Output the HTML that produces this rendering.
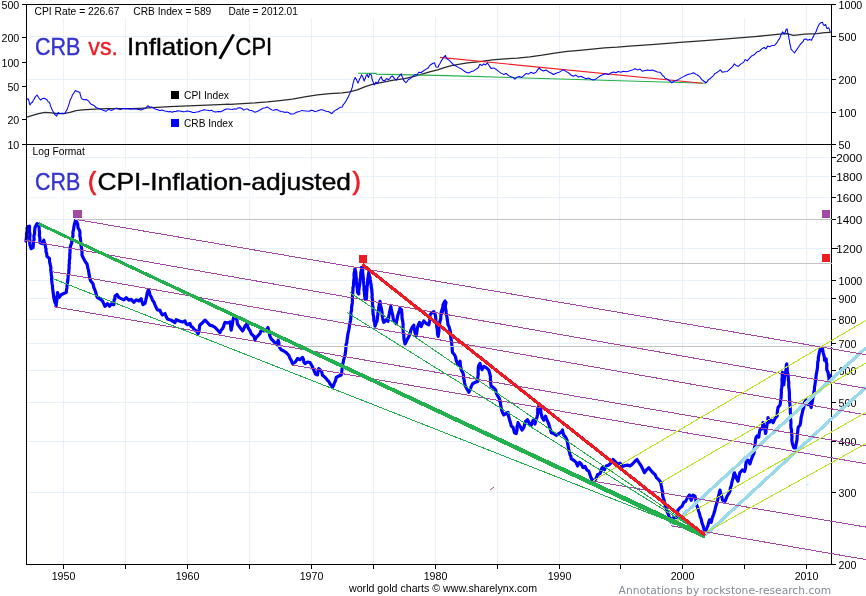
<!DOCTYPE html>
<html lang="en"><head><meta charset="utf-8"><title>CRB vs. Inflation/CPI</title>
<style>html,body{margin:0;padding:0;background:#fff;overflow:hidden}svg{display:block}</style></head>
<body>
<svg width="866" height="596" viewBox="0 0 866 596">
<rect width="866" height="596" fill="#fff"/>
<path d="M63.5,5V564 M125.5,5V564 M187.5,5V564 M249.5,5V564 M311.5,5V564 M373.5,5V564 M435.5,5V564 M497.5,5V564 M559.5,5V564 M620.5,5V564 M682.5,5V564 M744.5,5V564 M806.5,5V564 M27,36.5H831 M27,79.5H831 M27,112.5H831 M27,157.5H831 M27,176.5H831 M27,197.5H831 M27,219.5H831 M27,248.5H831 M27,280.5H831 M27,298.5H831 M27,319.5H831 M27,343.5H831 M27,370.5H831 M27,402.5H831 M27,441.5H831 M27,492.5H831" stroke="#e6f1fb" stroke-width="1" fill="none"/>
<rect x="27" y="5" width="440" height="13" fill="#fff"/>
<rect x="740" y="5" width="10" height="13" fill="#fff"/>
<polyline points="26.2,117.4 32.5,115.4 38.7,113.6 44.9,112.4 51.2,112.9 57.4,113.6 63.7,113.6 69.9,112.4 76.1,110.6 82.4,109.9 94.8,109.1 107.3,108.6 119.8,108.6 132.2,108.6 144.7,108.1 157.2,107.4 169.7,106.6 182.1,106.1 194.6,105.6 207.1,105.1 219.6,104.6 228.3,104.2 230.0,104.4 242.5,103.6 254.9,102.9 267.4,101.9 279.9,100.6 292.4,99.1 304.8,96.9 317.3,94.9 329.8,93.6 342.2,92.9 349.7,91.9 357.2,89.9 364.7,86.9 372.2,84.4 379.7,82.9 392.1,80.4 404.6,78.7 412.1,76.9 419.6,74.9 429.6,71.9 437.5,69.9 445.0,67.4 452.4,65.4 459.9,64.2 467.4,62.9 479.9,61.7 492.4,59.9 504.8,58.9 517.3,58.2 529.8,56.9 542.2,55.2 554.7,53.2 567.2,51.4 579.7,50.4 592.1,49.2 604.6,47.9 617.1,47.2 629.6,46.2 654.9,44.4 679.9,42.4 704.8,40.7 729.8,38.7 754.7,36.7 779.7,34.2 787.1,33.7 793.4,35.4 804.6,34.2 817.1,33.7 824.6,32.7 830.8,32.4" fill="none" stroke="#2a2a2a" stroke-width="1.3" stroke-linejoin="round"/>
<path d="M358,73.3 L376,73.4 L376.5,74.1 L446,75.6 L706,83.3" stroke="#22b14c" stroke-width="1.1" fill="none"/>
<path d="M440,57.4 L702.5,83.3" stroke="#ed1c24" stroke-width="1.1" fill="none"/>
<polyline points="26.2,99.9 28.0,98.6 28.5,99.7 29.0,101.2 29.3,103.2 30.0,104.9 31.2,103.0 32.5,102.2 33.3,100.2 34.0,99.5 35.0,97.3 37.0,95.0 38.7,97.7 40.5,100.0 42.4,98.6 44.4,98.2 46.9,99.7 48.1,101.7 49.4,102.2 49.9,103.5 50.5,106.2 51.2,107.4 52.0,109.5 52.9,111.2 53.7,112.4 54.9,114.7 56.7,116.2 57.3,114.2 58.2,112.4 59.9,113.6 62.4,113.3 64.9,113.5 65.6,112.1 66.6,110.3 67.4,108.9 67.9,107.1 68.5,105.6 69.4,102.9 69.9,101.0 70.3,99.6 71.2,98.3 71.9,96.6 72.4,94.8 73.4,93.7 74.4,92.0 75.4,90.6 77.4,91.4 79.9,92.4 80.1,94.3 80.8,96.0 81.1,97.7 82.3,99.1 83.6,99.8 86.1,99.5 88.6,100.9 89.7,102.7 91.1,104.2 93.6,105.2 96.1,107.5 98.6,108.4 101.1,109.2 103.6,110.6 106.1,111.3 108.6,109.2 111.0,110.4 113.5,109.4 116.0,108.1 118.5,109.1 120.3,109.4 122.3,108.8 124.3,108.6 126.0,108.9 127.7,108.5 129.8,109.2 131.6,108.8 133.5,108.9 135.2,108.8 137.2,109.3 139.1,109.5 141.0,110.1 143.5,109.0 146.0,107.9 147.7,105.7 149.7,107.0 152.2,107.1 154.7,108.9 157.2,109.5 159.7,110.6 162.2,110.1 164.7,111.1 166.4,111.2 168.4,111.7 170.1,111.4 172.2,112.2 174.0,111.5 175.9,111.4 177.6,110.7 179.6,110.9 181.3,111.2 183.4,111.8 185.1,111.5 187.1,111.0 188.9,111.3 190.9,111.7 192.9,112.6 194.6,112.4 196.3,112.1 198.3,111.7 200.1,110.9 202.1,110.6 203.8,109.7 205.8,110.1 207.6,110.3 209.6,110.7 211.5,110.2 213.3,111.4 215.3,112.0 217.1,111.7 218.8,111.6 220.8,111.8 222.8,110.8 224.5,109.8 226.5,108.9 228.3,108.9 230.4,109.3 232.4,109.4 234.3,108.8 236.2,109.3 237.9,107.9 240.0,107.7 241.9,108.5 243.7,110.1 245.8,109.1 247.5,108.9 249.3,110.2 251.2,110.4 252.9,111.1 254.9,112.2 257.0,111.6 258.7,110.8 261.2,109.3 263.7,107.9 265.4,107.8 267.4,106.9 269.9,108.8 271.9,109.9 273.7,110.3 275.6,109.6 277.4,109.7 279.5,111.1 281.1,111.5 283.2,111.8 284.9,112.5 286.6,112.1 288.6,112.6 290.6,114.0 292.4,113.9 294.4,113.7 296.1,112.4 298.0,111.8 299.8,111.4 301.9,110.4 303.6,110.7 305.6,110.9 307.3,111.1 309.3,111.2 311.1,110.2 312.9,110.6 314.8,111.4 316.6,111.2 318.6,110.5 320.6,109.7 322.3,109.8 324.2,110.4 326.0,111.3 328.1,111.6 329.8,112.3 331.8,113.6 333.1,112.1 334.8,110.6 337.3,109.2 339.8,107.6 342.2,107.0 343.2,104.8 344.2,103.7 346.0,101.1 346.9,99.2 347.7,97.9 348.6,96.1 349.7,93.7 350.5,91.4 351.5,90.0 351.9,88.2 352.5,86.9 352.7,84.9 353.1,83.4 353.6,81.6 354.0,79.9 355.2,77.4 356.7,79.9 357.4,82.0 358.0,83.1 358.7,81.4 359.7,78.7 360.7,77.4 361.5,74.7 363.0,77.2 363.4,79.2 364.2,81.0 364.9,78.9 365.5,78.2 365.9,76.0 367.2,74.3 367.7,76.0 368.4,77.6 368.9,76.2 369.7,73.9 371.2,74.9 371.8,76.5 371.8,78.5 372.3,79.5 372.7,81.1 373.4,82.6 374.2,85.0 375.9,82.1 377.7,83.7 378.1,81.9 379.1,80.1 379.7,78.7 381.2,76.7 382.0,79.1 382.7,80.2 384.7,80.9 386.6,78.5 388.6,79.7 389.7,78.8 390.9,76.7 392.6,76.1 394.6,78.9 396.6,80.1 397.7,77.7 399.1,76.4 401.1,73.7 401.7,75.8 402.6,77.2 403.3,79.6 404.1,80.9 405.9,82.7 407.2,81.3 408.3,79.7 410.8,78.1 413.3,75.9 415.1,74.6 417.1,74.9 418.1,73.2 419.1,72.2 420.8,72.8 423.3,71.0 425.8,69.4 428.3,67.8 429.4,65.9 430.8,64.7 432.6,63.5 434.5,62.8 435.3,65.3 436.2,66.9 438.0,67.2 438.8,65.3 440.0,63.5 441.1,61.1 442.0,59.9 443.7,57.2 445.5,55.4 446.0,57.7 447.0,58.8 448.7,59.9 450.1,61.2 451.2,62.3 452.5,63.7 453.7,65.2 456.2,66.1 458.7,67.6 461.2,68.8 463.7,70.7 466.2,72.3 468.7,73.0 471.2,71.6 473.7,70.9 476.1,69.1 478.6,67.5 479.1,65.6 479.9,64.2 481.9,65.6 483.6,63.9 485.4,65.0 487.4,62.8 488.3,64.2 489.4,66.1 491.1,68.4 493.6,67.9 496.1,69.3 498.6,71.4 501.1,73.1 503.6,74.4 506.1,73.5 508.6,75.6 511.1,76.8 513.6,77.8 514.8,79.1 516.8,77.3 519.3,76.4 521.8,77.4 524.3,75.2 526.0,73.6 528.5,74.1 531.0,72.3 533.5,73.4 536.0,72.3 537.8,69.6 539.3,67.9 541.0,69.8 543.5,71.0 546.0,69.9 548.5,71.7 551.0,73.0 553.5,74.5 556.0,73.3 558.5,72.6 561.0,71.1 563.4,69.8 565.9,71.4 568.4,72.7 570.9,75.0 573.4,76.2 575.9,75.1 578.4,77.1 580.9,76.3 583.4,77.4 585.9,78.7 588.4,78.0 590.9,79.2 593.4,79.9 595.9,78.9 598.4,77.1 600.9,75.5 603.4,74.6 605.9,73.7 608.3,74.6 610.8,73.0 613.3,72.0 615.8,72.7 618.3,71.6 620.8,72.2 623.3,71.3 625.8,71.7 628.3,71.3 630.5,70.6 632.5,69.9 635.0,68.7 637.5,69.9 640.0,69.1 642.5,71.3 645.0,70.5 647.5,69.9 650.0,70.6 652.4,70.0 654.9,70.9 657.4,72.0 659.9,72.2 661.1,73.3 662.4,75.5 663.8,76.2 664.9,78.1 667.4,79.3 669.9,81.0 671.9,82.8 673.7,81.2 676.1,80.7 678.6,79.4 681.1,77.9 683.6,76.6 686.1,75.2 688.6,74.2 691.1,73.7 693.6,72.7 696.1,74.4 698.6,75.8 699.7,76.7 701.1,78.7 702.4,80.1 703.6,81.0 706.1,82.8 707.3,81.3 708.6,79.6 709.7,79.1 711.1,77.6 713.6,75.6 714.8,73.4 716.1,73.0 718.6,71.4 720.3,69.8 722.3,72.2 724.8,71.7 727.3,71.4 729.8,69.2 730.9,68.2 732.3,66.9 733.1,65.9 734.3,63.8 736.0,65.4 738.5,66.3 739.6,65.2 741.0,63.9 743.5,62.4 745.2,59.6 747.2,60.9 749.2,58.6 750.4,57.3 751.7,55.9 754.2,54.8 755.6,53.4 756.7,52.1 759.2,51.3 760.3,50.4 761.7,48.9 764.2,47.5 765.9,48.9 767.7,46.1 769.7,46.8 772.2,45.4 774.7,45.2 775.9,43.8 777.2,42.4 778.0,40.6 779.2,39.2 779.7,38.4 780.2,37.1 780.9,34.8 781.7,33.5 782.7,31.9 784.2,34.0 785.2,32.4 785.9,30.0 787.1,28.9 787.6,31.4 787.8,33.2 788.4,35.1 788.8,36.7 788.9,38.9 789.5,39.9 789.6,42.2 790.0,44.5 790.6,46.3 790.9,48.9 792.6,51.0 794.6,53.0 795.7,51.1 796.6,49.9 798.4,47.2 800.1,44.7 802.1,42.3 803.1,41.5 804.1,39.3 805.9,38.9 807.6,40.2 809.6,39.4 811.6,40.2 812.3,38.3 813.3,36.9 814.1,34.7 815.1,33.6 815.9,32.1 816.4,30.7 817.1,28.7 818.0,26.6 819.1,24.4 820.8,22.7 822.6,22.3 823.2,24.6 824.1,25.5 825.8,24.5 826.3,27.1 827.1,28.6 828.8,27.8 829.5,29.8 830.3,32.2" fill="none" stroke="#0000ff" stroke-width="1.05" stroke-linejoin="round"/>
<polyline points="26.0,241.2 26.3,238.3 26.6,236.0 26.5,234.0 27.2,230.4 27.1,228.3 27.5,226.6 29.5,226.2 29.5,229.2 29.4,231.2 29.9,233.5 29.9,235.7 29.6,238.3 29.9,240.8 29.7,242.3 30.0,245.3 31.2,248.7 33.0,247.7 33.3,246.0 33.4,243.8 33.6,241.4 34.1,239.4 33.9,235.7 34.6,233.7 34.6,231.8 34.8,229.4 35.0,227.4 37.0,223.6 38.8,225.1 39.1,227.7 39.3,230.3 39.6,233.1 39.3,235.3 39.9,238.1 39.9,240.7 40.0,242.7 42.0,243.5 43.8,240.2 44.3,242.6 45.0,244.7 45.7,247.9 46.0,248.8 46.0,251.6 46.7,253.6 47.0,256.5 49.5,258.4 49.5,261.2 50.0,263.7 50.6,266.3 50.9,267.9 50.7,269.9 51.2,272.6 51.3,274.2 51.7,277.3 51.6,279.4 52.0,283.2 52.5,285.8 52.5,287.4 52.8,289.9 53.2,292.8 53.5,295.1 53.8,297.8 54.3,299.7 54.9,302.3 55.9,303.7 56.2,306.3 56.2,304.0 56.7,301.5 56.9,298.5 56.8,297.3 57.3,295.0 57.5,292.6 58.2,294.7 58.8,297.7 61.2,294.7 63.8,293.4 66.2,292.6 66.4,290.8 66.9,287.4 67.1,284.7 67.5,282.4 67.9,279.8 68.1,277.1 68.2,275.5 68.8,272.5 68.8,270.7 69.2,267.5 69.0,265.3 69.4,263.4 69.3,260.5 69.7,258.7 69.8,256.6 69.7,253.9 70.1,252.5 70.0,250.0 70.3,247.0 70.8,245.1 71.7,243.1 71.9,239.4 72.5,237.7 73.0,235.3 72.9,232.2 73.6,229.6 73.8,227.3 74.3,224.7 74.9,222.4 75.5,220.3 77.0,222.3 77.7,224.1 78.0,227.8 79.5,230.4 80.0,232.4 79.8,235.8 80.4,237.9 80.5,240.3 80.8,242.3 80.9,244.7 81.3,246.7 81.7,249.6 82.0,251.7 82.0,255.1 83.5,258.3 84.5,260.3 85.5,262.0 87.0,263.9 87.3,265.3 87.9,268.4 88.5,270.2 88.8,272.6 89.1,274.4 89.7,277.5 90.2,279.6 90.8,281.0 93.0,283.8 93.8,287.4 95.0,290.2 96.0,293.3 96.4,295.6 97.5,297.6 100.0,299.0 102.5,300.9 103.6,303.3 105.0,306.3 107.5,303.7 109.5,306.2 111.2,303.9 113.8,304.6 113.9,302.0 114.1,299.9 114.9,299.3 115.0,296.0 117.0,294.5 118.8,297.4 121.2,298.6 123.8,299.9 126.2,297.6 128.8,300.1 131.2,299.4 133.8,302.3 136.2,299.9 138.8,301.0 141.2,298.8 142.1,302.3 143.0,304.7 145.0,303.5 145.6,301.0 145.9,299.3 146.6,296.8 147.0,293.7 147.7,291.4 148.5,289.6 149.4,292.1 150.0,295.0 151.3,297.0 152.5,300.1 153.7,301.7 155.0,304.9 156.5,308.2 157.5,309.9 160.0,310.3 161.1,313.0 162.5,315.0 165.0,313.5 166.3,316.8 167.5,319.0 171.2,320.2 173.3,321.6 175.0,322.5 176.2,319.7 180.0,321.3 182.5,322.1 185.0,321.0 186.0,323.6 187.5,324.7 190.0,323.5 191.1,326.3 192.5,327.2 195.0,330.2 196.7,331.2 198.0,333.9 198.7,332.2 199.2,329.5 199.6,326.4 200.0,325.0 202.5,322.7 205.0,320.2 207.5,322.7 210.0,325.3 212.5,325.9 215.0,327.4 217.5,330.0 220.0,332.7 221.1,330.2 222.5,328.6 223.5,326.9 224.1,324.4 225.0,322.4 227.5,322.9 230.0,321.9 230.4,323.9 230.8,328.2 231.2,330.2 231.8,326.9 232.2,325.5 232.6,322.5 233.0,320.1 234.0,316.5 236.0,317.2 236.9,319.9 237.5,324.0 238.7,325.7 240.0,327.7 241.1,328.8 242.5,331.0 243.7,328.9 245.0,326.1 247.0,323.9 247.8,327.1 248.8,328.9 250.2,331.1 251.2,333.8 253.8,336.1 255.0,339.8 256.2,337.3 257.5,336.2 260.0,333.5 260.9,331.0 262.0,328.9 263.8,331.0 266.2,330.4 268.0,327.5 268.5,329.9 269.2,332.5 269.5,334.2 270.0,336.4 271.2,338.8 272.5,340.2 275.0,342.8 277.5,345.0 277.7,342.0 278.2,340.2 278.9,342.8 278.9,345.6 279.5,347.3 281.2,349.8 283.8,351.0 286.2,352.6 288.8,355.3 289.9,358.2 291.2,360.3 292.5,363.6 295.0,362.4 296.0,361.0 297.5,358.5 300.0,359.7 302.5,357.4 303.4,359.3 303.9,362.0 305.0,363.6 307.5,362.0 310.0,362.5 312.0,366.0 313.8,370.1 315.5,374.1 317.5,374.9 317.9,372.0 318.8,368.6 320.5,370.1 321.7,371.8 322.5,375.3 325.0,377.2 327.5,380.3 328.9,381.6 330.0,383.9 331.3,385.3 332.5,387.6 333.4,385.6 334.5,382.7 335.5,380.8 336.2,377.5 338.8,376.0 341.2,375.0 341.7,372.2 341.9,370.3 342.3,366.9 342.5,365.1 343.3,361.9 343.5,360.3 344.2,358.3 345.0,354.9 345.4,352.9 345.7,350.1 345.9,347.4 346.1,344.4 346.8,342.9 347.0,340.0 347.4,337.9 347.8,334.6 348.1,333.2 348.8,330.0 349.3,327.0 349.5,324.7 350.1,322.3 350.5,320.2 350.9,317.2 350.9,314.3 351.0,311.8 351.6,310.5 351.6,306.9 352.0,304.9 352.3,302.9 352.4,300.4 352.4,296.9 352.7,294.4 352.7,292.6 353.0,289.8 352.9,288.0 353.6,285.5 353.5,283.3 353.8,280.1 354.2,277.7 354.0,275.3 354.2,272.8 355.0,268.7 355.4,271.1 355.8,272.2 355.9,275.6 356.2,277.5 356.3,279.9 356.4,282.6 357.0,285.0 357.1,287.4 357.5,290.8 357.5,292.2 358.8,294.0 358.7,291.7 359.0,288.9 359.4,286.1 359.5,285.4 359.9,283.0 360.0,279.7 360.4,278.0 360.7,275.6 360.8,272.6 361.4,270.2 361.5,267.3 362.5,267.5 362.7,270.5 362.6,271.8 362.9,274.2 363.2,276.9 363.4,280.4 363.7,282.4 363.8,284.9 364.1,287.2 364.0,289.4 364.5,292.6 364.5,293.9 364.8,296.5 365.0,298.6 366.2,299.6 366.6,297.0 366.6,294.4 366.7,292.0 367.0,289.4 367.0,286.9 367.5,284.7 367.7,281.9 367.7,279.2 368.2,277.4 368.3,275.4 368.8,272.4 369.1,274.8 370.0,277.8 370.2,279.5 370.7,282.5 371.2,285.1 371.2,287.2 371.7,289.2 371.9,292.1 372.2,294.9 372.0,297.1 372.5,299.6 372.5,302.6 372.5,304.7 373.1,307.8 372.8,310.2 373.0,311.7 373.1,314.4 373.7,316.7 373.8,320.3 374.6,322.6 375.0,326.2 376.2,322.7 377.1,320.8 377.5,317.2 377.9,314.6 377.9,313.3 378.6,309.6 378.8,307.2 379.3,304.2 380.0,301.4 380.4,305.1 381.2,307.7 381.7,310.4 382.1,312.6 382.1,314.8 382.5,317.3 383.1,320.5 383.8,322.3 386.2,319.8 388.0,321.4 388.5,319.3 388.7,316.7 389.2,314.1 389.5,312.2 390.3,309.3 390.8,306.4 391.2,308.6 392.0,312.7 392.8,315.3 393.1,318.2 393.8,320.3 394.9,322.3 396.2,323.7 396.6,320.8 396.9,320.2 397.4,317.3 398.0,314.7 398.9,312.1 400.0,308.4 401.5,309.7 401.8,312.8 401.9,314.1 402.1,318.3 402.5,320.0 402.9,322.4 403.1,325.2 403.0,327.6 403.1,329.4 403.3,333.1 403.8,334.7 403.9,338.0 404.2,340.1 404.5,341.5 405.0,344.0 406.3,341.5 407.5,338.9 408.7,336.9 410.0,333.8 410.8,330.5 412.0,327.7 413.8,325.1 414.0,328.1 414.6,330.1 415.0,332.7 416.2,335.9 416.6,333.8 416.9,331.1 417.1,330.1 417.5,327.6 418.3,325.2 419.5,322.4 421.2,326.6 422.5,323.5 423.8,321.0 426.2,323.5 428.8,324.8 429.2,323.3 429.6,320.7 429.9,317.7 430.0,315.0 432.0,312.4 433.8,311.6 435.5,315.3 435.7,318.3 435.9,320.5 436.5,323.4 436.7,324.6 436.8,327.3 437.2,329.0 437.5,331.5 437.6,334.3 438.2,336.4 438.5,333.6 438.9,331.5 438.9,329.9 439.1,326.5 439.5,324.9 439.7,321.7 440.3,320.5 440.8,318.4 440.8,315.7 441.2,312.3 441.9,310.0 442.5,308.2 443.3,305.7 443.8,303.6 446.0,302.5 445.4,305.3 444.3,306.3 443.4,309.3 442.8,310.2 441.9,313.0 441.2,314.7 441.8,312.0 442.4,309.9 442.8,308.0 443.0,304.7 445.0,301.0 445.2,302.6 445.3,305.5 445.5,308.1 445.9,309.9 446.2,312.7 446.5,314.9 446.9,316.7 447.4,320.2 447.8,323.2 448.0,324.8 449.1,326.8 450.0,330.2 450.5,332.5 450.5,335.1 450.7,336.9 451.2,340.1 451.7,343.2 451.8,344.9 452.2,348.3 452.2,350.2 452.5,352.5 454.5,354.8 455.5,356.9 456.2,360.4 457.1,362.6 458.0,364.9 460.0,361.2 460.3,364.0 460.4,366.5 460.9,367.5 461.2,369.9 463.0,372.8 463.6,375.6 463.5,377.7 464.2,380.1 464.5,382.5 465.0,385.2 467.0,389.0 468.8,392.2 469.5,390.7 470.6,388.4 471.2,386.6 472.5,383.9 475.0,382.3 477.5,381.6 477.6,378.4 477.8,377.2 478.3,373.9 478.1,372.8 478.3,369.4 478.4,366.7 478.8,365.3 480.0,363.4 480.8,366.4 482.0,369.7 483.8,366.3 486.2,367.7 488.8,370.2 489.5,372.7 490.0,374.6 490.5,376.9 490.4,378.7 490.6,381.7 490.8,384.1 491.2,386.1 493.8,387.8 495.5,389.7 496.3,393.2 497.5,395.4 499.5,398.9 499.7,401.2 500.5,402.3 500.6,404.7 501.2,407.7 501.8,410.7 502.9,413.3 503.8,414.9 506.2,413.5 508.0,412.4 508.4,415.9 508.8,416.8 509.5,419.7 510.6,422.9 511.2,425.9 513.0,427.3 514.0,430.8 514.5,432.8 516.2,433.6 516.8,431.2 517.1,429.2 517.0,426.7 517.8,424.5 518.0,422.7 520.0,426.3 522.0,430.0 523.8,427.5 524.6,424.3 525.5,421.5 527.5,419.8 529.5,423.8 531.2,425.3 532.0,423.1 533.0,420.3 535.0,424.0 535.9,420.0 537.0,417.3 537.6,414.2 537.8,412.3 537.7,409.3 538.2,407.8 539.5,404.0 540.2,407.8 540.8,410.0 540.9,413.0 541.6,415.1 542.0,417.2 543.8,420.1 545.5,416.1 546.4,418.8 547.5,421.1 548.6,423.5 549.5,426.6 550.6,430.2 551.2,432.7 553.8,433.6 556.2,435.3 558.8,433.6 561.2,432.2 562.5,430.0 563.0,432.9 563.8,435.1 565.6,437.1 567.0,440.0 567.5,442.5 568.1,445.7 568.3,447.6 568.8,450.1 569.3,451.4 570.1,455.0 570.8,455.8 571.2,458.7 573.8,460.3 576.2,462.4 577.5,466.0 579.5,462.5 581.2,464.0 583.0,467.5 585.0,466.5 587.0,470.2 588.8,471.2 589.8,474.0 590.8,477.4 592.5,480.4 595.0,480.1 596.3,478.2 597.5,474.7 600.0,473.5 600.9,471.4 601.4,468.9 602.5,467.4 604.5,469.8 606.2,465.9 608.8,465.0 611.2,462.8 613.0,459.5 615.0,461.4 617.5,464.0 620.0,463.2 622.5,466.5 625.0,465.5 627.5,465.1 630.0,466.0 632.5,464.0 635.0,461.2 637.0,459.5 638.8,462.3 640.5,464.8 642.5,468.5 644.5,472.7 646.2,470.1 648.8,467.7 651.2,470.9 653.8,473.6 655.2,474.7 656.2,477.3 658.8,479.8 660.8,482.4 661.1,485.0 661.7,487.7 662.0,490.0 662.7,491.8 662.6,495.3 663.2,497.5 664.1,500.5 664.5,502.2 665.1,504.1 665.8,507.4 666.8,510.7 667.5,512.4 668.5,514.9 669.5,517.8 670.3,519.5 671.2,522.2 671.9,520.3 673.0,517.8 675.0,520.0 677.0,516.3 677.4,512.4 678.0,510.0 680.0,507.8 682.0,506.3 683.8,502.3 685.5,501.6 687.5,497.6 689.5,495.0 690.3,497.0 691.2,500.3 692.1,496.8 693.0,495.1 695.0,496.1 695.8,499.9 696.2,502.8 696.7,505.4 697.5,507.2 698.4,510.5 699.5,513.5 700.2,516.9 701.2,519.0 701.9,522.7 703.0,525.3 703.6,527.9 704.5,531.0 706.2,529.7 707.1,527.5 708.0,525.3 708.5,523.1 709.5,519.9 711.2,522.4 712.0,518.8 713.0,516.1 713.9,513.5 715.0,509.7 715.6,507.0 716.2,505.1 717.0,502.6 717.7,499.5 718.0,497.7 718.8,495.2 719.4,492.3 720.0,490.1 720.6,492.7 721.2,494.7 722.1,498.0 722.5,500.0 725.0,501.3 726.2,498.3 727.0,496.4 728.8,493.5 729.9,491.2 730.5,487.4 731.2,485.9 732.0,481.9 732.5,479.9 733.2,477.9 733.8,474.3 734.5,472.8 735.4,475.0 736.2,477.8 738.0,481.2 738.5,479.0 738.8,477.5 739.6,474.0 740.0,472.5 742.5,469.9 744.5,471.5 745.0,469.8 745.6,467.8 745.7,465.1 746.2,462.1 748.0,460.1 750.0,463.9 751.0,460.4 752.0,457.5 753.8,453.6 754.1,451.9 754.2,449.2 754.6,447.3 755.0,445.2 755.3,441.9 755.6,439.5 756.0,437.6 757.0,436.0 758.8,437.2 759.0,435.0 759.4,432.5 760.0,429.7 762.0,428.8 762.7,426.4 763.0,422.5 763.5,424.8 764.5,427.3 765.2,430.3 765.5,433.5 765.9,432.4 766.1,429.3 766.5,428.0 767.0,425.1 767.2,422.5 767.9,419.5 768.0,417.7 769.0,420.4 769.5,422.2 771.2,420.1 773.0,422.7 775.0,418.6 777.0,416.2 777.2,414.9 777.3,412.3 777.6,410.0 778.0,407.5 780.0,404.9 780.4,403.2 780.7,400.0 781.1,397.4 781.2,394.8 781.4,392.8 781.3,390.3 781.7,387.7 781.9,385.5 782.1,383.8 782.1,382.1 781.9,379.0 782.4,377.1 782.2,375.5 782.5,372.3 782.9,375.9 783.1,377.5 783.3,379.4 783.6,382.8 783.8,384.8 784.1,381.8 784.2,380.7 784.5,376.6 785.0,375.2 785.3,372.6 785.8,371.4 786.2,367.8 786.3,365.1 786.8,363.9 786.7,365.4 787.2,368.3 787.3,371.3 787.7,373.3 788.0,375.2 788.3,377.4 788.3,379.7 788.8,382.4 788.7,384.7 788.8,387.3 789.2,389.9 789.4,392.6 789.4,395.2 789.4,396.6 789.6,399.7 789.7,402.6 790.0,405.2 790.2,407.7 790.3,410.4 790.3,412.4 790.7,414.2 790.4,417.5 790.8,420.3 791.0,422.6 790.8,424.9 791.0,428.4 791.6,429.8 791.5,432.2 791.7,434.7 792.1,436.5 791.8,439.1 792.0,441.5 792.5,443.9 793.8,447.8 795.5,447.8 796.1,444.2 796.5,442.1 797.0,439.9 797.1,437.1 797.3,435.2 797.5,433.3 797.8,430.8 798.2,427.2 800.0,425.2 800.6,422.6 800.9,420.0 801.2,417.2 801.8,415.3 802.2,413.3 803.0,409.7 803.7,407.8 804.1,404.9 804.5,402.5 806.2,399.9 807.2,402.4 808.0,404.7 810.0,402.4 810.5,405.4 811.2,407.5 811.6,404.6 812.2,402.8 812.5,400.3 813.0,397.5 813.8,394.9 813.9,391.7 814.4,390.2 814.5,387.0 815.0,384.7 815.3,381.9 815.8,379.6 815.9,377.6 816.2,375.0 816.8,371.7 817.0,370.5 817.5,367.7 817.6,364.6 817.8,362.0 818.3,360.2 818.3,357.9 818.8,355.2 819.3,352.5 820.0,350.0 822.0,347.5 822.6,349.5 823.2,352.6 823.9,355.4 824.3,356.9 824.5,360.2 826.2,358.9 826.2,361.9 826.8,363.7 826.8,364.8 826.7,368.6 827.0,370.3 828.2,372.8 828.3,374.9 828.9,377.0 829.0,379.9 829.7,377.2 830.5,375.3" fill="none" stroke="#0000ff" stroke-width="3.2" stroke-linejoin="round" stroke-linecap="round"/>
<path d="M26.5,4.0V565.0 M831.5,4.0V565.0 M26.0,4.5H832.0 M26.0,144.5H832.0 M26.0,564.5H832.0 M22,4.5H26 M22,37.5H26 M22,62.5H26 M22,86.5H26 M22,119.5H26 M22,144.5H26 M832,4.5H836 M832,36.5H836 M832,79.5H836 M832,112.5H836 M832,144.5H836 M832,157.5H836 M832,176.5H836 M832,197.5H836 M832,219.5H836 M832,248.5H838 M832,280.5H836 M832,298.5H836 M832,319.5H836 M832,343.5H836 M832,370.5H836 M832,402.5H836 M832,441.5H836 M832,492.5H836 M832,564.5H836 M63.5,565V569 M125.5,565V569 M187.5,565V569 M249.5,565V569 M311.5,565V569 M373.5,565V569 M435.5,565V569 M497.5,565V569 M559.5,565V569 M620.5,565V569 M682.5,565V569 M744.5,565V569 M806.5,565V569" stroke="#000" stroke-width="1" fill="none" shape-rendering="crispEdges"/>
<g font-family="'Liberation Sans', Arial, sans-serif" font-size="10.67px" fill="#000">
<text x="19.3" y="8.9" text-anchor="end">500</text>
<text x="19.3" y="41.9" text-anchor="end">200</text>
<text x="19.3" y="66.9" text-anchor="end">100</text>
<text x="19.3" y="90.9" text-anchor="end">50</text>
<text x="19.3" y="123.9" text-anchor="end">20</text>
<text x="19.3" y="148.9" text-anchor="end">10</text>
<text x="838.6" y="8.9">1000</text>
<text x="838.6" y="40.9">500</text>
<text x="838.6" y="83.9">200</text>
<text x="838.6" y="116.9">100</text>
<text x="838.6" y="148.9">50</text>
<text x="838.6" y="284.9">1000</text>
<text x="838.6" y="302.9">900</text>
<text x="838.6" y="323.9">800</text>
<text x="838.6" y="347.9">700</text>
<text x="838.6" y="374.9">600</text>
<text x="838.6" y="406.9">500</text>
<text x="838.6" y="445.9">400</text>
<text x="838.6" y="496.9">300</text>
<text x="838.6" y="568.9">200</text>
<text x="63.5" y="580" text-anchor="middle">1950</text>
<text x="187.5" y="580" text-anchor="middle">1960</text>
<text x="311.5" y="580" text-anchor="middle">1970</text>
<text x="435.5" y="580" text-anchor="middle">1980</text>
<text x="559.5" y="580" text-anchor="middle">1990</text>
<text x="682.5" y="580" text-anchor="middle">2000</text>
<text x="806.5" y="580" text-anchor="middle">2010</text>
<text x="34.5" y="14.5" textLength="85" lengthAdjust="spacingAndGlyphs">CPI Rate = 226.67</text>
<text x="133.3" y="14.5" textLength="78" lengthAdjust="spacingAndGlyphs">CRB Index = 589</text>
<text x="228.5" y="14.5" textLength="69.3" lengthAdjust="spacingAndGlyphs">Date = 2012.01</text>
<text x="32.5" y="154.8" textLength="52.4" lengthAdjust="spacingAndGlyphs">Log Format</text>
<text x="184" y="98.7" textLength="45" lengthAdjust="spacingAndGlyphs">CPI Index</text>
<text x="184" y="126.8" textLength="49" lengthAdjust="spacingAndGlyphs">CRB Index</text>
<text x="349" y="592.1" textLength="188" lengthAdjust="spacingAndGlyphs">world gold charts © www.sharelynx.com</text>
</g>
<rect x="171" y="91" width="8" height="8" fill="#000"/>
<rect x="171" y="119" width="8" height="8" fill="#0000ff"/>
<path d="M75,219.5H832 M363,263.5H832 M277.5,346.5H832" stroke="#c3c3c3" stroke-width="1" fill="none"/>
<path d="M672,525L866,347.8 M704.8,535.6L866,387.2" stroke="#99d9ea" stroke-width="3.4" fill="none" stroke-linecap="butt" shape-rendering="crispEdges"/>
<path d="M78,219.8L866,354.7 M25.5,240.3L866,388.4 M52.5,271.7L866,414.9 M53.7,306.7L866,446.0 M291,364.8L866,463.7 M592.5,481.1L866,527.1 M671,525.8L866,559.6" stroke="#a349a4" stroke-width="1" fill="none" shape-rendering="crispEdges"/>
<path d="M490,490L494,487" stroke="#a349a4" stroke-width="1" fill="none"/>
<path d="M807,485.3L808.3,483.8" stroke="#99d9ea" stroke-width="1" fill="none"/>
<path d="M592.5,481.2L866,320.3 M660.5,482.7L866,363 M676,521L866,412.3 M705,533L866,443.5" stroke="#b5e61d" stroke-width="1" fill="none" shape-rendering="crispEdges"/>
<path d="M53.2,278.7L704.5,535 M350,292.5L704.5,535 M347,312.5L704.5,535" stroke="#22b14c" stroke-width="1" fill="none" shape-rendering="crispEdges"/>
<path d="M38.5,223.6L704.5,535 M38.5,223.7L704.8,537.2" stroke="#22b14c" stroke-width="2.9" fill="none" stroke-linecap="butt" shape-rendering="crispEdges"/>
<path d="M362.5,264.5L705,535.3" stroke="#ed1c24" stroke-width="3.3" fill="none" stroke-linecap="butt" shape-rendering="crispEdges"/>
<rect x="73" y="210" width="9" height="8" fill="#a349a4"/>
<rect x="822" y="210" width="8" height="8" fill="#a349a4"/>
<rect x="359" y="255" width="8" height="8" fill="#ed1c24"/>
<rect x="822" y="254" width="8" height="8" fill="#ed1c24"/>
<g font-family="'Liberation Sans', Arial, sans-serif" font-size="11.3px" fill="#000">
<text x="836.3" y="161.8" textLength="26" lengthAdjust="spacingAndGlyphs">2000</text>
<text x="836.3" y="180.8" textLength="26" lengthAdjust="spacingAndGlyphs">1800</text>
<text x="836.3" y="201.8" textLength="26" lengthAdjust="spacingAndGlyphs">1600</text>
<text x="836.3" y="223.8" textLength="26" lengthAdjust="spacingAndGlyphs">1400</text>
<text x="836.3" y="252.8" textLength="26" lengthAdjust="spacingAndGlyphs">1200</text>
</g>
<rect x="27" y="161" width="335" height="38" fill="#fff" fill-opacity="0.45"/>
<g font-family="'Liberation Sans', Arial, sans-serif" font-size="24px" stroke-width="0.4" stroke-linejoin="round">
<text y="54.5"><tspan x="35" textLength="45.4" lengthAdjust="spacingAndGlyphs" fill="#3333cc" stroke="#3333cc">CRB</tspan><tspan fill="none" stroke="none"> </tspan><tspan x="88.3" textLength="29.6" lengthAdjust="spacingAndGlyphs" fill="#ed1c24" stroke="#ed1c24">vs.</tspan><tspan fill="none" stroke="none"> </tspan><tspan x="127.1" textLength="90.8" lengthAdjust="spacingAndGlyphs" fill="#000" stroke="#000">Inflation</tspan><tspan x="218.6" y="58.2" font-size="37px" rotate="14" fill="#000" stroke="none">/</tspan><tspan x="235.6" y="54.5" textLength="36.5" lengthAdjust="spacingAndGlyphs" fill="#000" stroke="#000">CPI</tspan></text>
<text y="189.5"><tspan x="35" textLength="45.2" lengthAdjust="spacingAndGlyphs" fill="#3333cc" stroke="#3333cc">CRB</tspan><tspan fill="none" stroke="none"> </tspan><tspan x="88" font-size="25px" fill="#ed1c24" stroke="#ed1c24" stroke-width="0.7">(</tspan><tspan x="97.5" font-size="24px" textLength="253.5" lengthAdjust="spacingAndGlyphs" fill="#000" stroke="#000">CPI-Inflation-adjusted</tspan><tspan x="352.4" font-size="25px" fill="#ed1c24" stroke="#ed1c24" stroke-width="0.7">)</tspan></text>
</g>
<text x="618.6" y="593.5" textLength="212.6" lengthAdjust="spacingAndGlyphs" font-family="'DejaVu Sans', 'Liberation Sans', sans-serif" font-size="11px" fill="#848b96">Annotations by rockstone-research.com</text>
</svg>
</body></html>
